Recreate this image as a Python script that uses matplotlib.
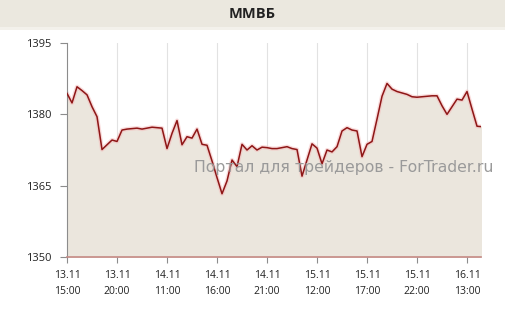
import numpy as np
import matplotlib.pyplot as plt
from matplotlib.patches import Rectangle

title = "ММВБ"
values = [1384.4, 1382.4, 1385.8, 1385.0, 1384.1, 1381.6, 1379.5, 1372.6, 1373.6, 1374.6,
          1374.3, 1376.7, 1376.9, 1377.0, 1377.1, 1376.9, 1377.1, 1377.3, 1377.2, 1377.1,
          1372.8, 1376.0, 1378.7, 1373.6, 1375.3, 1375.0, 1376.9, 1373.7, 1373.5, 1370.2,
          1366.7, 1363.3, 1366.0, 1370.4, 1369.0, 1373.7, 1372.5, 1373.4, 1372.5, 1373.1,
          1373.0, 1372.8, 1372.8, 1373.0, 1373.2, 1372.8, 1372.6, 1367.0, 1370.4, 1373.8,
          1372.9, 1369.6, 1372.5, 1372.1, 1373.2, 1376.5, 1377.2, 1376.7, 1376.5, 1371.1,
          1373.7, 1374.3, 1379.0, 1383.8, 1386.5, 1385.3, 1384.8, 1384.5, 1384.2, 1383.7,
          1383.6, 1383.7, 1383.8, 1383.9, 1383.9, 1381.8, 1380.0, 1381.6, 1383.2, 1383.0,
          1384.8, 1381.1, 1377.5, 1377.4]
tick_labels = ["13.11\n15:00", "13.11\n20:00", "14.11\n11:00", "14.11\n16:00", "14.11\n21:00",
               "15.11\n12:00", "15.11\n17:00", "15.11\n22:00", "16.11\n13:00"]
y_ticks = [1350, 1365, 1380, 1395]
watermark = "Портал для трейдеров - ForTrader.ru"

plt.rcParams['font.family'] = ['Open Sans', 'DejaVu Sans']

x = np.arange(len(values))
y = np.array(values)

fig = plt.figure(figsize=(5.05, 3.14), dpi=100)
fig.patches.append(Rectangle((0, 0.913), 1, 0.087, transform=fig.transFigure,
                             facecolor="#ebe8df", edgecolor="none", zorder=0))
fig.patches.append(Rectangle((0, 0.905), 1, 0.008, transform=fig.transFigure,
                             facecolor="#f3f1eb", edgecolor="none", zorder=0))
fig.text(0.5, 0.955, title, ha="center", va="center", fontsize=10.5,
         fontweight="bold", color="#222222")

ax = fig.add_axes([0.1327, 0.1815, 0.8198, 0.6815])
ax.fill_between(x, y, 1350, color="#ebe6dd", zorder=1)
ax.plot(x, y, color="#f4b8b8", lw=3, alpha=0.5, zorder=2)
ax.plot(x, y, color="#8e1616", lw=1.1, zorder=3)

ax.set_xlim(0, 82.8)
ax.set_ylim(1350, 1395)
ax.set_yticks(y_ticks)
ax.set_xticks(np.arange(0, 90, 10))
ax.set_xticklabels(tick_labels, linespacing=1.65)
for xt in np.arange(10, 90, 10):
    ax.axvline(xt, color="#e2e2e2", lw=0.8, zorder=0)

for s in ["top", "right"]:
    ax.spines[s].set_visible(False)
ax.spines["left"].set_color("#8c8c8c")
ax.spines["bottom"].set_color("#c58a85")
ax.spines["bottom"].set_linewidth(1.2)
ax.tick_params(axis="y", length=5, color="#8c8c8c", labelsize=8, pad=6, labelcolor="#222222")
ax.tick_params(axis="x", length=4, color="#8c8c8c", labelsize=7.5, pad=5, labelcolor="#222222")

ax.text(0.669, 0.42, watermark, transform=ax.transAxes, ha="center", va="center",
        fontsize=11.3, color="#9a9a9a", family="DejaVu Sans", zorder=4)

fig.savefig("out.png", dpi=100)
